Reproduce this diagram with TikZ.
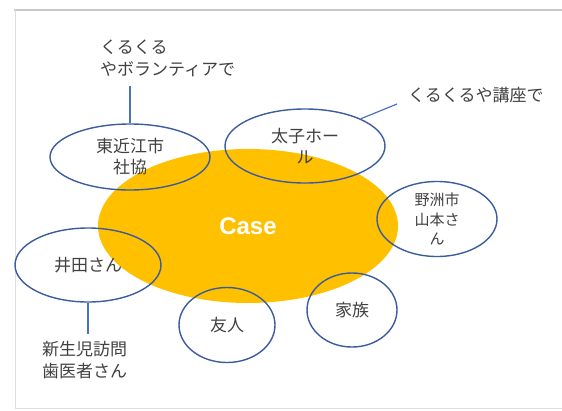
\documentclass[tikz,border=0pt]{standalone}
\usepackage{fontspec}
\setmainfont{Noto Sans CJK JP}
\newfontfamily\casefont{Liberation Sans}
\usetikzlibrary{shapes.geometric}
\definecolor{ellblue}{HTML}{3B5C9E}
\definecolor{connblue}{HTML}{4A72C0}
\definecolor{caseorange}{HTML}{FFC000}
\definecolor{txtgray}{HTML}{404040}
\definecolor{framegray}{HTML}{C8C8C8}
\begin{document}
\begin{tikzpicture}[x=1pt,y=-1pt,
  bub/.style={ellipse,draw=ellblue,line width=1.4pt,inner sep=0pt,align=center,
    text=txtgray,font=\fontsize{17}{21}\selectfont},
  lbl/.style={inner sep=0pt,align=left,text=txtgray,font=\fontsize{17}{22}\selectfont},
  conn/.style={draw=connblue,line width=1.2pt}]
\useasboundingbox (0,0) rectangle (562,410);
% frame
\draw[framegray,line width=2pt] (14,10) -- (562,10);
\draw[framegray!60,line width=0.8pt] (15,10) -- (15,408) -- (562,408);
% case
\fill[caseorange] (248,226) ellipse [x radius=150, y radius=77];
\node[text=white,font=\casefont\bfseries\fontsize{24}{28}\selectfont] (case) at (248,226) {Case};
% bubbles
\node[bub,minimum width=160pt,minimum height=66pt] (higashi) at (130,157) {東近江市\\社協};
\node[bub,minimum width=160pt,minimum height=74pt] (taishi) at (305,146) {太子ホー\\ル};
\node[bub,minimum width=120pt,minimum height=75pt,font=\fontsize{15}{19.5}\selectfont] (yasu) at (437,219) {野洲市\\山本さ\\ん};
\node[bub,minimum width=146pt,minimum height=74pt] (ida) at (88,265) {井田さん};
\node[bub,minimum width=96pt,minimum height=75pt] (yujin) at (227,325) {友人};
\node[bub,minimum width=90pt,minimum height=74pt] (kazoku) at (352,310) {家族};
% labels
\node[lbl,anchor=north west] (kuru1) at (100,40) {くるくる\\やボランティアで};
\node[lbl,anchor=west] (kuru2) at (408,95) {くるくるや講座で};
\node[lbl,anchor=north west] (shinsei) at (42,341) {新生児訪問\\歯医者さん};
% connectors
\coordinate (k1end) at (130,86);
\coordinate (k2end) at (397,104);
\coordinate (shend) at (88,334);
\draw[conn] (higashi.north) -- (k1end);
\draw[conn] (taishi.26) -- (k2end);
\draw[conn] (ida.south) -- (shend);
\end{tikzpicture}
\end{document}
